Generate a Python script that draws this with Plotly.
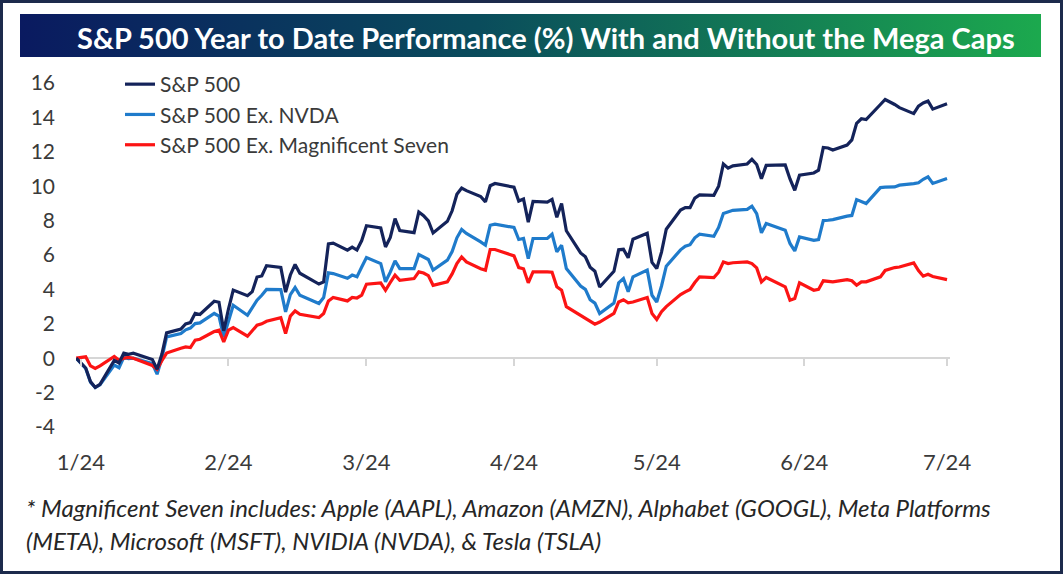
import plotly.graph_objects as go

W, H = 1063, 574

# trading days, first entry is the year-start baseline
trade_dates = [
    "2023-12-31",
    "2024-01-02", "2024-01-03", "2024-01-04", "2024-01-05", "2024-01-08", "2024-01-09", "2024-01-10",
    "2024-01-11", "2024-01-12", "2024-01-16", "2024-01-17", "2024-01-18", "2024-01-19", "2024-01-22",
    "2024-01-23", "2024-01-24", "2024-01-25", "2024-01-26", "2024-01-29", "2024-01-30", "2024-01-31",
    "2024-02-01", "2024-02-02", "2024-02-05", "2024-02-06", "2024-02-07", "2024-02-08", "2024-02-09",
    "2024-02-12", "2024-02-13", "2024-02-14", "2024-02-15", "2024-02-16", "2024-02-20", "2024-02-21",
    "2024-02-22", "2024-02-23", "2024-02-26", "2024-02-27", "2024-02-28", "2024-02-29",
    "2024-03-01", "2024-03-04", "2024-03-05", "2024-03-06", "2024-03-07", "2024-03-08", "2024-03-11",
    "2024-03-12", "2024-03-13", "2024-03-14", "2024-03-15", "2024-03-18", "2024-03-19", "2024-03-20",
    "2024-03-21", "2024-03-22", "2024-03-25", "2024-03-26", "2024-03-27", "2024-03-28",
    "2024-04-01", "2024-04-02", "2024-04-03", "2024-04-04", "2024-04-05", "2024-04-08", "2024-04-09",
    "2024-04-10", "2024-04-11", "2024-04-12", "2024-04-15", "2024-04-16", "2024-04-17", "2024-04-18",
    "2024-04-19", "2024-04-22", "2024-04-23", "2024-04-24", "2024-04-25", "2024-04-26", "2024-04-29",
    "2024-04-30",
    "2024-05-01", "2024-05-02", "2024-05-03", "2024-05-06", "2024-05-07", "2024-05-08", "2024-05-09",
    "2024-05-10", "2024-05-13", "2024-05-14", "2024-05-15", "2024-05-16", "2024-05-17", "2024-05-20",
    "2024-05-21", "2024-05-22", "2024-05-23", "2024-05-24", "2024-05-28", "2024-05-29", "2024-05-30",
    "2024-05-31",
    "2024-06-03", "2024-06-04", "2024-06-05", "2024-06-06", "2024-06-07", "2024-06-10", "2024-06-11",
    "2024-06-12", "2024-06-13", "2024-06-14", "2024-06-17", "2024-06-18", "2024-06-20", "2024-06-21",
    "2024-06-24", "2024-06-25", "2024-06-26", "2024-06-27", "2024-06-28",
    "2024-07-01",
]

sp500 = [
    0.0,
    -0.57, -1.36, -1.70, -1.52, -0.13, -0.28, 0.29, 0.22, 0.29, -0.08, -0.64, 0.23, 1.47, 1.69,
    1.99, 2.07, 2.61, 2.54, 3.31, 3.25, 1.59,
    2.86, 3.96, 3.63, 3.87, 4.72, 4.78, 5.38, 5.28, 3.84, 4.84, 5.45, 4.94, 4.31, 4.44,
    6.65, 6.69, 6.28, 6.46, 6.29, 6.84,
    7.70, 7.57, 6.47, 7.02, 8.12, 7.42, 7.30, 8.50, 8.29, 7.98, 7.28, 7.96, 8.57, 9.53,
    9.89, 9.74, 9.40, 9.09, 10.03, 10.16,
    9.94, 9.14, 9.26, 7.91, 9.11, 9.07, 9.23, 8.19, 9.00, 7.41, 6.12, 5.90, 5.29, 5.06,
    4.14, 5.05, 6.30, 6.33, 5.84, 6.92, 7.26, 5.57,
    5.21, 6.17, 7.50, 8.61, 8.76, 8.76, 9.31, 9.49, 9.47, 10.00, 11.29, 11.05, 11.18, 11.29,
    11.56, 11.26, 10.44, 11.21, 11.24, 10.42, 9.76, 10.64,
    10.77, 10.93, 12.25, 12.22, 12.10, 12.39, 12.69, 13.65, 13.92, 13.87, 14.75, 15.04, 14.75, 14.57,
    14.22, 14.66, 14.84, 14.95, 14.48,
    14.79,
]

sp500_ex_nvda = [
    0.0,
    -0.60, -1.40, -1.70, -1.55, -0.40, -0.55, 0.05, -0.02, 0.00, -0.32, -0.93, 0.00, 1.24, 1.43,
    1.65, 1.75, 2.01, 2.05, 2.60, 2.45, 1.24,
    2.15, 3.08, 2.50, 2.90, 3.37, 3.66, 4.00, 3.99, 2.69, 3.70, 4.11, 3.66, 3.18, 3.53,
    4.96, 4.92, 4.65, 4.83, 4.73, 5.30,
    5.85, 5.50, 4.44, 5.00, 5.66, 5.21, 5.21, 6.03, 5.90, 5.74, 5.12, 5.70, 6.20, 7.00,
    7.48, 7.25, 6.76, 6.57, 7.73, 7.79,
    7.60, 6.90, 6.96, 5.79, 6.96, 6.96, 7.21, 6.18, 6.57, 5.21, 4.20, 4.00, 3.40, 3.20,
    2.60, 3.20, 4.38, 4.63, 3.86, 4.73, 5.12, 3.66,
    3.27, 4.20, 5.35, 6.30, 6.51, 6.60, 7.00, 7.21, 7.09, 7.60, 8.41, 8.50, 8.60, 8.65,
    8.84, 8.40, 7.29, 7.83, 7.44, 6.67, 6.24, 7.05,
    6.85, 6.90, 8.00, 8.02, 8.06, 8.26, 8.30, 9.22, 9.10, 8.99, 9.92, 9.95, 9.96, 10.06,
    10.15, 10.20, 10.40, 10.54, 10.16,
    10.45,
]

sp500_ex_mag7 = [
    0.0,
    0.08, -0.45, -0.60, -0.45, 0.10, -0.12, 0.00, 0.05, 0.00, -0.42, -0.65, -0.15, 0.30, 0.58,
    0.66, 0.62, 1.05, 1.10, 1.55, 1.63, 0.95,
    1.63, 1.78, 1.28, 1.60, 1.92, 2.00, 2.15, 2.36, 1.43, 2.45, 2.75, 2.55, 2.36, 2.60,
    3.33, 3.53, 3.33, 3.53, 3.50, 3.66,
    4.30, 4.38, 3.95, 4.40, 4.83, 4.53, 4.63, 5.02, 4.95, 4.80, 4.24, 4.44, 4.90, 5.50,
    5.89, 5.60, 5.20, 5.12, 6.32, 6.32,
    5.95, 5.27, 5.20, 4.38, 5.02, 5.02, 5.00, 4.15, 3.95, 3.00, 2.50, 2.35, 2.20, 1.98,
    2.10, 2.60, 3.27, 3.40, 3.22, 3.27, 3.53, 2.60,
    2.25, 2.70, 3.00, 3.70, 3.86, 4.00, 4.40, 4.73, 4.69, 5.00, 5.60, 5.50, 5.55, 5.60,
    5.50, 5.25, 4.44, 4.69, 4.15, 3.37, 3.47, 4.38,
    3.95, 4.00, 4.50, 4.45, 4.44, 4.57, 4.50, 4.24, 4.44, 4.44, 4.73, 5.10, 5.27, 5.30,
    5.54, 5.10, 4.77, 4.88, 4.75,
    4.57,
]

month_ticks = ["2024-01-01", "2024-02-01", "2024-03-01", "2024-04-01",
               "2024-05-01", "2024-06-01", "2024-07-01"]
month_labels = ["1/24", "2/24", "3/24", "4/24", "5/24", "6/24", "7/24"]
y_ticks = [-4, -2, 0, 2, 4, 6, 8, 10, 12, 14, 16]
y_labels = ["-4", "-2", "0", "2", "4", "6", "8", "10", "12", "14", "16"]

title_text = "S&P 500 Year to Date Performance (%) With and Without the Mega Caps"
note_line1 = "* Magnificent Seven includes: Apple (AAPL), Amazon (AMZN), Alphabet (GOOGL), Meta Platforms"
note_line2 = "(META), Microsoft (MSFT), NVIDIA (NVDA), & Tesla (TSLA)"

FONT = "Lato"
TEXT = "#3a3a3a"
x_range = ["2023-12-30 23:00", "2024-07-01 15:00"]


def fx(px):
    return px / W


def fy(px):
    return 1 - px / H


plot_y0, plot_y1 = fy(427), fy(83)
zero_pos = plot_y0 + (0 - (-4)) / 20 * (plot_y1 - plot_y0)

fig = go.Figure()

# dark line sits on x2 so the tick axis at zero has a trace
fig.add_trace(go.Scatter(x=trade_dates, y=sp500, mode="lines", name="S&P 500",
                         line=dict(color="#14235a", width=3.2), xaxis="x2", yaxis="y",
                         legendgroup="a", legendrank=1, hoverinfo="skip"))
fig.add_trace(go.Scatter(x=trade_dates, y=sp500_ex_nvda, mode="lines", name="S&P 500 Ex. NVDA",
                         line=dict(color="#1f7bcb", width=3.2),
                         legendgroup="b", legendrank=2, hoverinfo="skip"))
fig.add_trace(go.Scatter(x=trade_dates, y=sp500_ex_mag7, mode="lines",
                         name="S&P 500 Ex. Magnificent Seven",
                         line=dict(color="#fc1414", width=3.2),
                         legendgroup="c", legendrank=3, hoverinfo="skip"))

# title banner with gradient fill
fig.add_trace(go.Scatter(x=[0, 1, 1, 0, 0], y=[0, 0, 1, 1, 0], mode="lines",
                         fill="toself", line=dict(width=0), showlegend=False,
                         hoverinfo="skip", xaxis="x3", yaxis="y3",
                         fillgradient=dict(type="horizontal",
                                           colorscale=[[0, "#0a1a60"], [0.45, "#0a4c5c"],
                                                       [1, "#1ca94e"]])))

fig.update_layout(
    width=W, height=H,
    template="none",
    paper_bgcolor="white", plot_bgcolor="rgba(0,0,0,0)",
    margin=dict(l=0, r=0, t=0, b=0),
    font=dict(family=FONT, color=TEXT),
    showlegend=True,
    legend=dict(x=fx(120), y=fy(64), xanchor="left", yanchor="top",
                bgcolor="rgba(0,0,0,0)", font=dict(family=FONT, size=21, color=TEXT),
                tracegroupgap=0, traceorder="normal"),
    xaxis=dict(domain=[fx(76), fx(950)], range=x_range, type="date",
               tickmode="array", tickvals=month_ticks, ticktext=month_labels,
               showgrid=False, zeroline=False, showline=False, ticks="",
               tickfont=dict(family=FONT, size=22, color=TEXT),
               ticklabelstandoff=20, automargin=False),
    xaxis2=dict(overlaying="x", anchor="free", position=zero_pos, range=x_range, type="date",
                tickmode="array", tickvals=month_ticks, showticklabels=False,
                ticks="outside", ticklen=7, tickwidth=2, tickcolor="#d6d6d6",
                showgrid=False, zeroline=False, showline=False, automargin=False),
    yaxis=dict(domain=[plot_y0, plot_y1], range=[-4, 16], tickmode="array",
               tickvals=y_ticks, ticktext=y_labels,
               showgrid=False, zeroline=True, zerolinecolor="#d6d6d6", zerolinewidth=2,
               showline=False, ticks="", ticklabelstandoff=20,
               tickfont=dict(family=FONT, size=21, color=TEXT), automargin=False),
    xaxis3=dict(domain=[fx(20), fx(1041)], range=[0, 1], visible=False, anchor="y3"),
    yaxis3=dict(domain=[fy(57), fy(14)], range=[0, 1], visible=False, anchor="x3"),
)

fig.add_annotation(text="<b>" + title_text + "</b>", xref="paper", yref="paper",
                   x=fx(546), y=fy(37), xanchor="center", yanchor="middle", showarrow=False,
                   font=dict(family=FONT, size=29, color="white"))
fig.add_annotation(text="<i>" + note_line1 + "</i>", xref="paper", yref="paper",
                   x=fx(24), y=fy(507), xanchor="left", yanchor="middle", showarrow=False,
                   font=dict(family=FONT, size=24, color="#262626"))
fig.add_annotation(text="<i>" + note_line2 + "</i>", xref="paper", yref="paper",
                   x=fx(24), y=fy(540), xanchor="left", yanchor="middle", showarrow=False,
                   font=dict(family=FONT, size=24, color="#262626"))

# outer frame
fig.add_shape(type="rect", xref="paper", yref="paper", x0=0, y0=0, x1=1, y1=1,
              line=dict(color="#1c2a4c", width=6), fillcolor="rgba(0,0,0,0)")

# page body has a default 8px margin; drop it so the figure sits at the window edge
fig.write_html("out.html", config={"displayModeBar": False},
               post_script="document.body.style.margin='0';")
